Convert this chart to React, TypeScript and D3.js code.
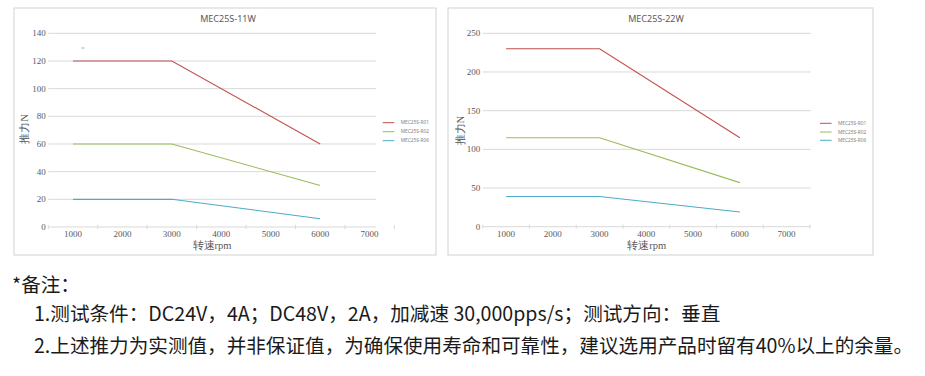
import React from "react";
import * as d3 from "d3";

// ---- data ----
const categories = [1000, 2000, 3000, 4000, 5000, 6000, 7000];
const speedPoints = [1000, 3000, 6000];
const seriesNames = ["MEC25S-R01", "MEC25S-R02", "MEC25S-R06"];
const seriesColors = ["#c0504d", "#9bbb59", "#4bacc6"];

const chart11W_R01 = [120, 120, 60];
const chart11W_R02 = [60, 60, 30];
const chart11W_R06 = [20, 20, 6];
const chart11W_ticks = [0, 20, 40, 60, 80, 100, 120, 140];

const chart22W_R01 = [230, 230, 115];
const chart22W_R02 = [115, 115, 57];
const chart22W_R06 = [39, 39, 19];
const chart22W_ticks = [0, 50, 100, 150, 200, 250];

const noteTitle = "*备注：";
const noteLines = [
  "1.测试条件：DC24V，4A；DC48V，2A，加减速 30,000pps/s；测试方向：垂直",
  "2.上述推力为实测值，并非保证值，为确保使用寿命和可靠性，建议选用产品时留有40%以上的余量。",
];

type ChartCfg = {
  title: string;
  panel: [number, number, number, number];
  titleX: number;
  bandRange: [number, number];
  gridEnd: number;
  yRange: [number, number];
  yMax: number;
  ticks: number[];
  series: number[][];
  yLabelX: number;
  yLabelY: number;
  xLabelX: number;
  legendX: number;
  legendY: number[];
  note?: boolean;
};

const charts: ChartCfg[] = [
  {
    title: "MEC25S-11W",
    panel: [14, 8, 436, 255],
    titleX: 228,
    bandRange: [48.3, 394.3],
    gridEnd: 376,
    yRange: [227, 33.3],
    yMax: 140,
    ticks: chart11W_ticks,
    series: [chart11W_R01, chart11W_R02, chart11W_R06],
    yLabelX: 24.5,
    yLabelY: 129,
    xLabelX: 212,
    legendX: 382.7,
    legendY: [122.7, 131.7, 140.7],
    note: true,
  },
  {
    title: "MEC25S-22W",
    panel: [448, 8, 873, 255],
    titleX: 656,
    bandRange: [482.7, 810],
    gridEnd: 810.7,
    yRange: [226.7, 33.3],
    yMax: 250,
    ticks: chart22W_ticks,
    series: [chart22W_R01, chart22W_R02, chart22W_R06],
    yLabelX: 460,
    yLabelY: 130.7,
    xLabelX: 646.7,
    legendX: 820,
    legendY: [123.3, 132, 140.3],
  },
];

const gridColor = "#d9d9d9";
const labelColor = "#595959";
const serif = "'Liberation Serif', 'DejaVu Serif', serif";
const sans = "'Noto Sans', 'Noto Sans CJK SC', sans-serif";

function Chart({ c }: { c: ChartCfg }) {
  const x = d3.scaleBand<number>().domain(categories).range(c.bandRange).padding(0);
  const y = d3.scaleLinear().domain([0, c.yMax]).range(c.yRange);
  const cx = (v: number) => (x(v) ?? 0) + x.bandwidth() / 2;
  const line = d3
    .line<[number, number]>()
    .x((d) => cx(d[0]))
    .y((d) => y(d[1]));
  const [px0, py0, px1, py1] = c.panel;
  const boundaries = categories.map((v) => x(v) ?? 0).concat([c.bandRange[1]]);
  const y0 = y(0);
  return (
    <g>
      <rect x={px0} y={py0} width={px1 - px0} height={py1 - py0} fill="#fff" stroke={gridColor} strokeWidth={1.2} />
      <text x={c.titleX} y={22} textAnchor="middle" fontFamily={sans} fontSize={9} fill={labelColor}>
        {c.title}
      </text>
      {c.ticks.map((t) => (
        <g key={t}>
          {t !== 0 && (
            <line x1={c.bandRange[0]} x2={c.gridEnd} y1={y(t)} y2={y(t)} stroke={gridColor} strokeWidth={1} />
          )}
          <text x={c.bandRange[0] - 2.5} y={y(t) + 3} textAnchor="end" fontFamily={serif} fontSize={9} fill={labelColor}>
            {t}
          </text>
        </g>
      ))}
      <line x1={c.bandRange[0]} x2={c.gridEnd} y1={y0} y2={y0} stroke={gridColor} strokeWidth={1} />
      {boundaries.map((b, i) => (
        <line key={i} x1={b} x2={b} y1={y0 - 2} y2={y0 + 2} stroke={gridColor} strokeWidth={1} />
      ))}
      {categories.map((v) => (
        <text key={v} x={cx(v)} y={236.5} textAnchor="middle" fontFamily={serif} fontSize={9} fill={labelColor}>
          {v}
        </text>
      ))}
      <text x={c.xLabelX} y={249} textAnchor="middle" fontFamily={serif} fontSize={10.5} fill={labelColor}>
        转速rpm
      </text>
      <text
        transform={`translate(${c.yLabelX},${c.yLabelY}) rotate(-90)`}
        textAnchor="middle"
        dy="0.35em"
        fontFamily={serif}
        fontSize={10.5}
        fill={labelColor}
      >
        推力N
      </text>
      {c.series.map((vals, si) => (
        <path
          key={si}
          d={line(speedPoints.map((s, i) => [s, vals[i]] as [number, number])) ?? ""}
          fill="none"
          stroke={seriesColors[si]}
          strokeWidth={1.1}
        />
      ))}
      {seriesNames.map((n, si) => (
        <g key={n}>
          <line x1={c.legendX} x2={c.legendX + 11.6} y1={c.legendY[si]} y2={c.legendY[si]} stroke={seriesColors[si]} strokeWidth={1} />
          <text x={c.legendX + 18} y={c.legendY[si] + 1.7} fontFamily={sans} fontSize={4.8} fill="#7f7f7f">
            {n}
          </text>
        </g>
      ))}
      {c.note && (
        <text x={83} y={49} textAnchor="middle" fontFamily={sans} fontSize={3.5} fill="#999">
          w
        </text>
      )}
    </g>
  );
}

export default function App() {
  const noteFont = "'Noto Sans CJK SC', 'Noto Sans', sans-serif";
  return (
    <svg
      width={925}
      height={376}
      style={{ position: "absolute", left: 0, top: 0, background: "#fff" }}
    >
      <rect width={925} height={376} fill="#fff" />
      {charts.map((c) => (
        <Chart key={c.title} c={c} />
      ))}
      <text x={12} y={292} fontFamily={noteFont} fontSize={19.6} fill="#1a1a1a">
        {noteTitle}
      </text>
      {noteLines.map((l, i) => (
        <text key={i} x={34} y={321 + i * 32} fontFamily={noteFont} fontSize={19.6} fill="#1a1a1a">
          {l}
        </text>
      ))}
    </svg>
  );
}
